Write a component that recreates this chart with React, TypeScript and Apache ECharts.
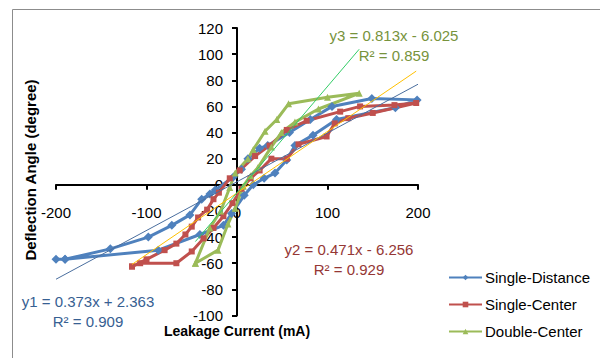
import React, { useEffect, useRef } from "react";
import * as echarts from "echarts";

const singleDistance: [number, number][] = [
  [-200, -57], [-190, -57], [-140, -49], [-98, -40], [-72, -31], [-52, -23], [-39, -11],
  [-30, -7], [-24, -4], [-4, 6], [5, 12], [12, 20], [25, 28], [34, 30], [58, 40],
  [81, 50], [105, 60], [149, 66], [199, 65],
  [175, 59], [110, 50], [84, 38], [64, 30], [55, 19], [42, 9], [30, 5], [18, 0],
  [8, -8], [-6, -22], [-15, -31], [-41, -38], [-87, -50], [-190, -57],
];

const singleCenter: [number, number][] = [
  [-116, -62.5], [-107, -60], [-67, -60], [-50, -51], [-37, -41], [-26, -33], [-15, -24],
  [-5, -14], [5, -3], [15, 5], [25, 11], [38, 20], [55, 20], [68, 31], [99, 37],
  [108, 47], [123, 51], [150, 55], [198, 62.6],
  [174, 61], [136, 60], [114, 56], [77, 49], [55, 42], [36, 30], [20, 22], [3, 11],
  [-8, 5], [-20, -6], [-26, -11], [-33, -19], [-43, -25], [-50, -32], [-57, -38],
  [-67, -45], [-80, -50], [-100, -57], [-116, -62.5],
];

const doubleCenter: [number, number][] = [
  [-46, -60], [-21, -50], [-10, -30], [-2, -18], [7, -1], [15, 7], [23, 13], [38, 29],
  [49, 40], [64, 48], [90, 58], [135, 70],
  [100, 67], [57, 62], [44, 50], [31, 41], [18, 27], [12, 20], [-2, 9], [-8, -2],
  [-18, -20], [-30, -33], [-46, -60],
];

// trendline coefficients [slope, intercept] and x ranges
const trend1 = { slope: 0.373, intercept: 2.363, xFrom: -200, xTo: 200 };
const trend2 = { slope: 0.471, intercept: -6.256, xFrom: -116, xTo: 198 };
const trend3 = { slope: 0.813, intercept: -6.025, xFrom: -46, xTo: 135 };

const seriesNames = ["Single-Distance", "Single-Center", "Double-Center"];
const xTicks = { min: -200, max: 200, interval: 100 };
const yTicks = { min: -100, max: 120, interval: 20 };

const FONT = "'Liberation Sans', Arial, sans-serif";

const GRID = { left: 56, top: 28, width: 362, height: 287.5 };

function trendPoints(t: { slope: number; intercept: number; xFrom: number; xTo: number }) {
  return [
    [t.xFrom, t.slope * t.xFrom + t.intercept],
    [t.xTo, t.slope * t.xTo + t.intercept],
  ];
}

export default function App() {
  const ref = useRef<HTMLDivElement>(null);
  useEffect(() => {
    if (!ref.current) return;
    const chart = echarts.init(ref.current, undefined, { renderer: "svg" });
    // place axes through the origin, moving labels with them
    const yZeroFrac = (yTicks.max - 0) / (yTicks.max - yTicks.min);
    const xZeroFrac = (0 - xTicks.min) / (xTicks.max - xTicks.min);
    const xAxisOffset = -(GRID.height * (1 - yZeroFrac));
    const yAxisOffset = -(GRID.width * xZeroFrac);
    const dataSeries = (name: string, data: any, color: string, symbol: string, size: number) => ({
      name,
      type: "line",
      data,
      symbol,
      symbolSize: size,
      showSymbol: true,
      lineStyle: { color, width: 3 },
      itemStyle: { color },
      z: 2,
    });
    const trendSeries = (data: any, color: string) => ({
      type: "line",
      data,
      symbol: "none",
      lineStyle: { color, width: 1 },
      silent: true,
      z: 3,
    });
    chart.setOption({
      animation: false,
      backgroundColor: "#fff",
      grid: GRID,
      xAxis: {
        type: "value",
        min: xTicks.min,
        max: xTicks.max,
        interval: xTicks.interval,
        position: "bottom",
        offset: xAxisOffset,
        axisLine: { onZero: false, lineStyle: { color: "#000", width: 2 } },
        axisTick: { show: true, inside: false, length: 5, lineStyle: { color: "#000", width: 2 } },
        axisLabel: { margin: 20, color: "#000", fontSize: 15, fontFamily: FONT },
        splitLine: { show: false },
      },
      yAxis: {
        type: "value",
        min: yTicks.min,
        max: yTicks.max,
        interval: yTicks.interval,
        position: "left",
        offset: yAxisOffset,
        axisLine: { show: true, onZero: false, lineStyle: { color: "#000", width: 2 } },
        axisTick: { show: true, inside: false, length: 5, lineStyle: { color: "#000", width: 2 } },
        axisLabel: { margin: 14, color: "#000", fontSize: 15, fontFamily: FONT },
        splitLine: { show: false },
      },
      legend: {
        data: seriesNames,
        orient: "vertical",
        left: 443,
        top: 265,
        itemWidth: 33,
        itemHeight: 7,
        itemGap: 12,
        textStyle: { fontSize: 15, color: "#000", fontFamily: FONT, padding: [0, 0, 0, -2] },
      },
      series: [
        dataSeries(seriesNames[0], singleDistance, "#4F81BD", "diamond", 9),
        dataSeries(seriesNames[1], singleCenter, "#C0504D", "rect", 6),
        dataSeries(seriesNames[2], doubleCenter, "#9BBB59", "triangle", 7),
        trendSeries(trendPoints(trend1), "#4A6E9E"),
        trendSeries(trendPoints(trend2), "#FFC000"),
        trendSeries(trendPoints(trend3), "#33CC66"),
      ],
      graphic: [
        {
          type: "rect",
          shape: { x: 12.5, y: 9.5, width: 700, height: 500 },
          style: { fill: "none", stroke: "#8c8c8c", lineWidth: 1 },
          silent: true,
        },
        {
          type: "text",
          x: 30,
          y: 170,
          rotation: Math.PI / 2,
          style: {
            text: "Deflection Angle (degree)",
            fontSize: 15,
            fontWeight: "bold",
            fontFamily: FONT,
            fill: "#000",
            align: "center",
            verticalAlign: "middle",
          },
        },
        {
          type: "text",
          x: 237,
          y: 331,
          style: {
            text: "Leakage Current (mA)",
            fontSize: 14,
            fontWeight: "bold",
            fontFamily: FONT,
            fill: "#000",
            align: "center",
            verticalAlign: "middle",
          },
        },
        {
          type: "text",
          x: 394,
          y: 35,
          style: { text: "y3 = 0.813x - 6.025", fontSize: 15, fontFamily: FONT, fill: "#77933C", align: "center", verticalAlign: "middle" },
        },
        {
          type: "text",
          x: 394,
          y: 55,
          style: { text: "R² = 0.859", fontSize: 15, fontFamily: FONT, fill: "#77933C", align: "center", verticalAlign: "middle" },
        },
        {
          type: "text",
          x: 349,
          y: 249,
          style: { text: "y2 = 0.471x - 6.256", fontSize: 15, fontFamily: FONT, fill: "#953735", align: "center", verticalAlign: "middle" },
        },
        {
          type: "text",
          x: 349,
          y: 269,
          style: { text: "R² = 0.929", fontSize: 15, fontFamily: FONT, fill: "#953735", align: "center", verticalAlign: "middle" },
        },
        {
          type: "text",
          x: 88,
          y: 301,
          style: { text: "y1 = 0.373x + 2.363", fontSize: 15, fontFamily: FONT, fill: "#376092", align: "center", verticalAlign: "middle" },
        },
        {
          type: "text",
          x: 88,
          y: 321,
          style: { text: "R² = 0.909", fontSize: 15, fontFamily: FONT, fill: "#376092", align: "center", verticalAlign: "middle" },
        },
      ],
    });
    return () => chart.dispose();
  }, []);
  return (
    <div
      ref={ref}
      style={{ position: "fixed", left: 0, top: 0, width: 600, height: 358 }}
    />
  );
}
